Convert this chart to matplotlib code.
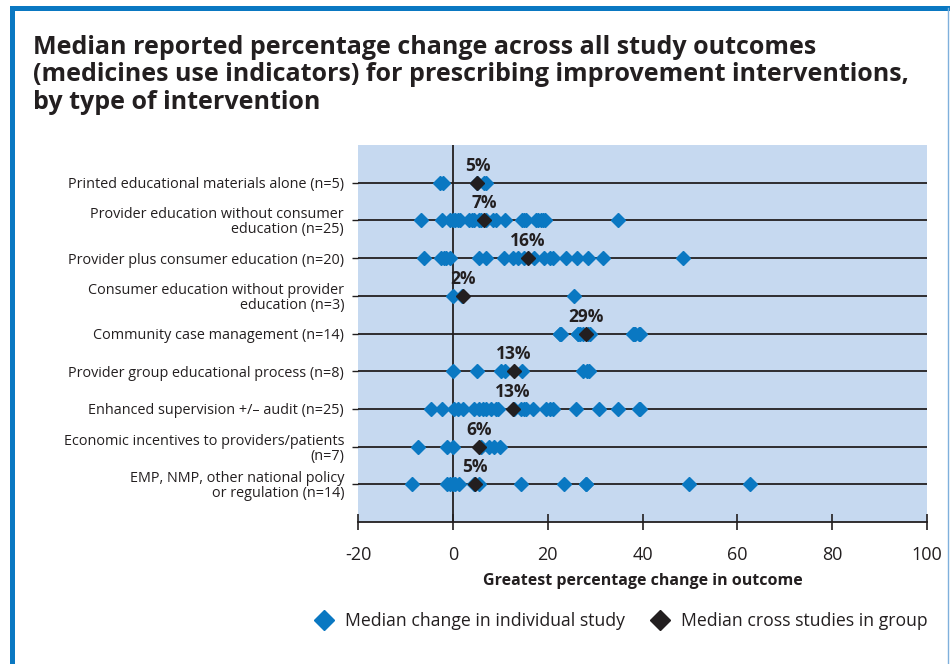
import numpy as np
import matplotlib
matplotlib.use("Agg")
import matplotlib.pyplot as plt
from matplotlib.patches import Rectangle
from matplotlib.lines import Line2D

plt.rcParams["font.family"] = ["Open Sans", "DejaVu Sans"]
plt.rcParams["axes.unicode_minus"] = False

BLUE = "#0A78C2"
DARK = "#231F20"
BG = "#C6D9F0"

categories = [
    "Printed educational materials alone (n=5)",
    "Provider education without consumer\neducation (n=25)",
    "Provider plus consumer education (n=20)",
    "Consumer education without provider\neducation (n=3)",
    "Community case management (n=14)",
    "Provider group educational process (n=8)",
    "Enhanced supervision +/\u2013 audit (n=25)",
    "Economic incentives to providers/patients\n(n=7)",
    "EMP, NMP, other national policy\nor regulation (n=14)",
]

# individual study medians
printed = [-2.8, -2.0, 5.0, 6.5, 7.0]
prov_no_cons = [-6.7, -2.2, -0.5, 0, 0.5, 1, 1.5, 3.5, 4, 4.5, 5.5, 6, 7,
                8.5, 9, 11, 14.5, 15, 15.5, 17.5, 18, 18.5, 19, 19.5, 34.8]
prov_plus_cons = [-6.0, -2.4, -1.8, -1.4, -0.7, 5.6, 7.0, 10.7, 12.6, 13.7,
                  17.2, 19.3, 20.4, 21.2, 23.9, 26.2, 28.6, 31.6, 48.5, 15.0]
cons_no_prov = [0, 2, 25.5]
community = [22.5, 22.5, 22.8, 26.3, 26.5, 26.8, 27.5, 28.5, 29, 38, 38.2,
             38.5, 39.2, 39.5]
group_edu = [0, 5, 10.2, 11, 14.6, 27.5, 28.3, 28.8]
supervision = [-4.6, -2.2, 0.3, 1, 2.1, 4.5, 5.5, 6.3, 7, 8.1, 9.1, 9.5, 13,
               14.4, 15, 15.4, 17, 19.7, 20.5, 21.1, 26, 30.8, 34.8, 39.2, 39.5]
incentives = [-7.4, -1.2, 0, 6, 7.6, 8.6, 10.0]
policy = [-8.7, -1.2, -0.5, 0, 0.5, 1.2, 4.5, 5.5, 14.4, 23.4, 28.1, 28.1,
          49.9, 62.7]

studies = [printed, prov_no_cons, prov_plus_cons, cons_no_prov, community,
           group_edu, supervision, incentives, policy]

group_medians = [5, 7, 16, 2, 29, 13, 13, 6, 5]
median_pos = [5.2, 6.6, 15.8, 2.1, 28.1, 12.8, 12.6, 5.6, 4.7]

fig = plt.figure(figsize=(9.5, 6.64), dpi=100)
ax = fig.add_axes([358 / 950, 1 - 522 / 664, (927 - 358) / 950, (522 - 145) / 664])
ax.set_facecolor(BG)

for i, vals in enumerate(studies):
    ax.axhline(i, color=DARK, lw=1.3, zorder=1)
    ax.plot(vals, [i] * len(vals), linestyle="none", marker="D", ms=7,
            color=BLUE, mec=BLUE, zorder=3)
    ax.plot(median_pos[i], i, marker="D", ms=7, color=DARK, zorder=4)
    ax.text(median_pos[i], i - 0.45, "{}%".format(group_medians[i]),
            ha="center", va="center", fontsize=12.5, fontweight="bold",
            color=DARK, zorder=5)

ax.axvline(0, color=DARK, lw=1.3, zorder=2)

ax.set_xlim(-20, 100)
ax.set_ylim(len(categories), -1)
ax.set_xticks(range(-20, 101, 20))
ax.set_yticks(range(len(categories)))
ax.set_yticklabels(categories, fontsize=10.4, color=DARK, linespacing=1.0)
ax.tick_params(axis="x", direction="inout", length=12, width=1.2, colors=DARK,
               labelsize=13, pad=11)
ax.tick_params(axis="y", direction="out", length=4, width=1, colors=DARK, pad=6)
for lab in ax.get_yticklabels():
    lab.set_multialignment("right")

for s in ["top", "right", "left"]:
    ax.spines[s].set_visible(False)
ax.spines["bottom"].set_color(DARK)
ax.spines["bottom"].set_linewidth(1.3)

ax.set_xlabel("Greatest percentage change in outcome", fontsize=11.5,
              fontweight="bold", color=DARK, labelpad=7)

fig.text(33 / 950, 1 - 35 / 664,
         "Median reported percentage change across all study outcomes\n"
         "(medicines use indicators) for prescribing improvement interventions,\n"
         "by type of intervention",
         fontsize=18, fontweight="bold", color=DARK, va="top", ha="left",
         linespacing=1.12)

handles = [
    Line2D([], [], linestyle="none", marker="D", ms=10, color=BLUE),
    Line2D([], [], linestyle="none", marker="D", ms=10, color=DARK),
]
fig.legend(handles, ["Median change in individual study", "Median cross studies in group"],
           loc="center", bbox_to_anchor=(617 / 950, 1 - 621 / 664), ncol=2,
           frameon=False, fontsize=12.7, handletextpad=0.2, columnspacing=1.0,
           labelcolor=DARK)

# blue frame
fig.add_artist(Rectangle((9.5 / 950, 0), 5.5 / 950, 1 - 6 / 664,
                         transform=fig.transFigure, color=BLUE, lw=0))
fig.add_artist(Rectangle((9.5 / 950, 1 - 11 / 664), 1, 5 / 664,
                         transform=fig.transFigure, color=BLUE, lw=0))
fig.add_artist(Line2D([948 / 950, 948 / 950], [0, 1 - 8 / 664],
                      transform=fig.transFigure, color="#7FB0DC", lw=1))

fig.savefig("out.png", dpi=100)
